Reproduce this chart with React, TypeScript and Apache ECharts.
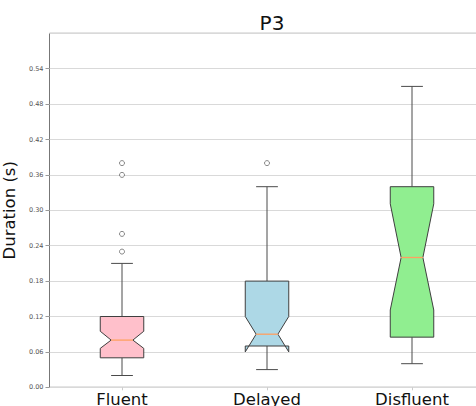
import React, { useEffect, useRef } from "react";
import * as echarts from "echarts";

const categories = ["Fluent", "Delayed", "Disfluent"];
// [min whisker, q1, median, q3, max whisker, notch low, notch high]
const boxStats = [
  [0.02, 0.05, 0.08, 0.12, 0.21, 0.066, 0.095],
  [0.03, 0.07, 0.09, 0.18, 0.34, 0.06, 0.12],
  [0.04, 0.085, 0.22, 0.34, 0.51, 0.131, 0.311],
];
const boxColors = ["#FFC0CB", "#ADD8E6", "#90EE90"];
const outliers = [
  [0, 0.38],
  [0, 0.36],
  [0, 0.26],
  [0, 0.23],
  [1, 0.38],
];
const yTicks = { min: 0, max: 0.6, interval: 0.06 };

export default function App() {
  const ref = useRef<HTMLDivElement>(null);
  useEffect(() => {
    if (!ref.current) return;
    const chart = echarts.init(ref.current, null, { renderer: "svg" });
    const font = "DejaVu Sans";
    const option: any = {
      animation: false,
      textStyle: { fontFamily: font },
      title: {
        text: "P3",
        left: 267,
        textAlign: "center",
        top: 8,
        textStyle: { fontSize: 20, fontWeight: "normal", color: "#111", fontFamily: font },
      },
      grid: {
        left: 49.5,
        top: 33.3,
        width: 435,
        height: 354,
        outerBoundsMode: "none",
        containLabel: false,
        show: true,
        borderColor: "#777",
        borderWidth: 1,
        backgroundColor: "transparent",
      },
      xAxis: {
        type: "category",
        data: categories,
        axisLine: { show: false },
        axisTick: { show: true, alignWithLabel: true, length: 3, lineStyle: { color: "#ccc" } },
        axisLabel: { fontSize: 16.5, color: "#111", margin: 4, fontFamily: font },
        splitLine: { show: false },
      },
      yAxis: {
        type: "value",
        min: yTicks.min,
        max: yTicks.max,
        interval: yTicks.interval,
        name: "Duration (s)",
        nameLocation: "middle",
        nameRotate: 90,
        nameGap: 25,
        nameTextStyle: { fontSize: 16.5, color: "#111", fontFamily: font },
        axisLine: { show: false },
        axisTick: { show: true, length: 4, lineStyle: { color: "#999" } },
        axisLabel: {
          fontSize: 6.5,
          color: "#555",
          margin: 6,
          showMaxLabel: false,
          formatter: (v: number) => v.toFixed(2),
          fontFamily: font,
        },
        splitLine: { show: true, lineStyle: { color: "#d9d9d9", width: 1 } },
      },
      series: [
        {
          type: "custom",
          data: boxStats.map((s, i) => [i, ...s]),
          encode: { x: 0, y: [1, 2, 3, 4, 5, 6, 7] },
          z: 3,
          renderItem: (params: any, api: any) => {
            const idx = api.value(0);
            const mn = api.value(1);
            const q1 = api.value(2);
            const med = api.value(3);
            const q3 = api.value(4);
            const mx = api.value(5);
            const nLo = api.value(6);
            const nHi = api.value(7);
            const band = api.size([1, 0])[0];
            const hw = band * 0.15;
            const cx = api.coord([idx, med])[0];
            const y = (v: number) => api.coord([idx, v])[1];
            const L = cx - hw;
            const R = cx + hw;
            const nl = cx - hw / 2;
            const nr = cx + hw / 2;
            const pts = [
              [L, y(q1)],
              [L, y(nLo)],
              [nl, y(med)],
              [L, y(nHi)],
              [L, y(q3)],
              [R, y(q3)],
              [R, y(nHi)],
              [nr, y(med)],
              [R, y(nLo)],
              [R, y(q1)],
            ];
            const whisk = { stroke: "#4a4a4a", lineWidth: 1 };
            const capW = hw / 2;
            return {
              type: "group",
              children: [
                { type: "line", shape: { x1: cx, y1: y(q1), x2: cx, y2: y(mn) }, style: whisk },
                { type: "line", shape: { x1: cx, y1: y(q3), x2: cx, y2: y(mx) }, style: whisk },
                { type: "line", shape: { x1: cx - capW, y1: y(mn), x2: cx + capW, y2: y(mn) }, style: whisk },
                { type: "line", shape: { x1: cx - capW, y1: y(mx), x2: cx + capW, y2: y(mx) }, style: whisk },
                {
                  type: "polygon",
                  shape: { points: pts },
                  style: { fill: boxColors[idx], stroke: "#3f3f3f", lineWidth: 1 },
                },
                {
                  type: "line",
                  shape: { x1: nl, y1: y(med), x2: nr, y2: y(med) },
                  style: { stroke: "#ffa060", lineWidth: 1.3 },
                },
              ],
            };
          },
        },
        {
          type: "scatter",
          data: outliers,
          symbol: "circle",
          symbolSize: 5,
          z: 4,
          itemStyle: { color: "#fff", borderColor: "#444", borderWidth: 0.8 },
        },
      ],
    };
    chart.setOption(option);
    return () => chart.dispose();
  }, []);
  return (
    <div
      ref={ref}
      style={{ position: "absolute", left: 0, top: 0, width: 476, height: 406, background: "#fff" }}
    />
  );
}
